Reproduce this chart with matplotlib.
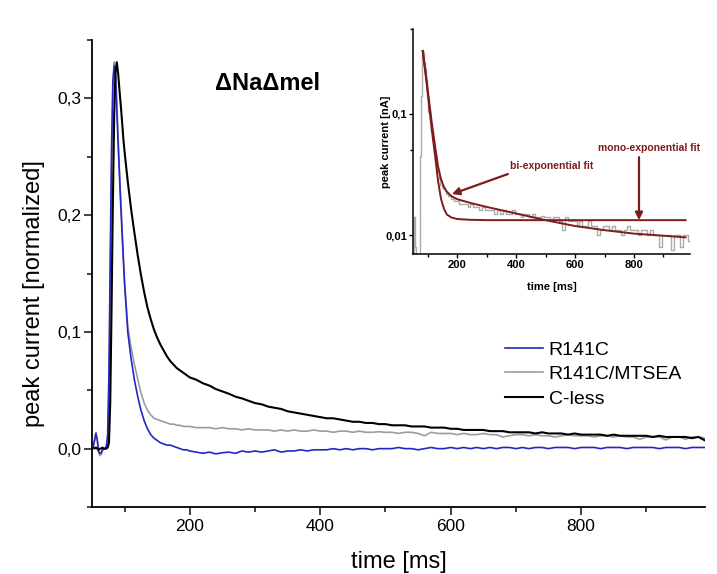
import numpy as np
import matplotlib
matplotlib.use("Agg")
import matplotlib.pyplot as plt
from matplotlib.ticker import FixedLocator, FixedFormatter, NullFormatter

plt.rcParams["font.family"] = ["Liberation Sans", "DejaVu Sans"]

# ---------------------------------------------------------------- data
time_ms = [50, 52, 54, 56, 58, 60, 62, 64, 66, 68, 70, 72, 74, 76, 78, 80, 82, 84, 86, 88,
           90, 92, 94, 96, 98, 100,
           105, 110, 115, 120, 125, 130, 135, 140, 145, 150, 155, 160, 165, 170, 175, 180,
           185, 190, 195, 200,
           210, 220, 230, 240, 250, 260, 270, 280, 290, 300,
           310, 320, 330, 340, 350, 360, 370, 380, 390, 400,
           410, 420, 430, 440, 450, 460, 470, 480, 490, 500,
           510, 520, 530, 540, 550, 560, 570, 580, 590, 600,
           610, 620, 630, 640, 650, 660, 670, 680, 690, 700,
           710, 720, 730, 740, 750, 760, 770, 780, 790, 800,
           810, 820, 830, 840, 850, 860, 870, 880, 890, 900,
           910, 920, 930, 940, 950, 960, 970, 980, 990]

r141c = [0.000, 0.002, 0.007, 0.013, 0.008, -0.002, -0.004, -0.004, -0.001, 0.000, 0.000,
         0.002, 0.012, 0.065, 0.165, 0.258, 0.315, 0.328, 0.318, 0.290, 0.262, 0.236, 0.210,
         0.186, 0.163, 0.141,
         0.099, 0.077, 0.059, 0.045, 0.033, 0.024, 0.017, 0.012, 0.009, 0.007, 0.005, 0.004,
         0.003, 0.003, 0.002, 0.001, 0.000, -0.001, -0.001, -0.002,
         -0.003, -0.004, -0.003, -0.0045, -0.0035, -0.003, -0.004, -0.002, -0.003, -0.002,
         -0.003, -0.002, -0.001, -0.003, -0.002, -0.002, -0.001, -0.002, -0.001, -0.001,
         -0.001, 0.000, -0.001, 0.000, -0.001, 0.000, 0.000, -0.001, 0.000, 0.000,
         0.000, 0.001, 0.000, 0.000, -0.001, 0.000, 0.001, 0.000, 0.000, 0.001,
         0.000, 0.001, 0.000, 0.001, 0.000, 0.001, 0.000, 0.001, 0.001, 0.000,
         0.001, 0.000, 0.001, 0.001, 0.000, 0.001, 0.001, 0.001, 0.000, 0.001,
         0.001, 0.001, 0.000, 0.001, 0.001, 0.001, 0.000, 0.001, 0.001, 0.001,
         0.001, 0.000, 0.001, 0.001, 0.001, 0.000, 0.001, 0.001, 0.001]

r141c_mtsea = [0.000, 0.002, 0.008, 0.014, 0.008, -0.003, -0.006, -0.005, -0.002, 0.000, 0.000,
               0.001, 0.006, 0.045, 0.140, 0.235, 0.305, 0.331, 0.326, 0.300, 0.268, 0.240,
               0.214, 0.190, 0.166, 0.142,
               0.104, 0.087, 0.072, 0.060, 0.048, 0.039, 0.033, 0.029, 0.026, 0.025, 0.024,
               0.023, 0.022, 0.021, 0.021, 0.020, 0.020, 0.019, 0.019, 0.019,
               0.018, 0.018, 0.018, 0.017, 0.018, 0.017, 0.017, 0.016, 0.017, 0.016,
               0.016, 0.016, 0.015, 0.016, 0.015, 0.016, 0.015, 0.015, 0.016, 0.015,
               0.015, 0.014, 0.015, 0.015, 0.014, 0.015, 0.014, 0.014, 0.0145, 0.014,
               0.014, 0.013, 0.014, 0.014, 0.013, 0.011, 0.014, 0.013, 0.013, 0.013,
               0.012, 0.013, 0.012, 0.012, 0.013, 0.012, 0.012, 0.010, 0.011, 0.012,
               0.012, 0.011, 0.012, 0.011, 0.011, 0.010, 0.011, 0.012, 0.011, 0.011,
               0.011, 0.010, 0.011, 0.011, 0.010, 0.011, 0.010, 0.010, 0.008, 0.010,
               0.010, 0.010, 0.0075, 0.010, 0.010, 0.008, 0.010, 0.010, 0.009]

c_less = [0.000, 0.001, 0.000, 0.001, 0.000, -0.001, 0.000, 0.000, 0.001, 0.000, 0.000,
          0.000, 0.001, 0.005, 0.040, 0.120, 0.210, 0.285, 0.322, 0.331, 0.322, 0.308,
          0.295, 0.281, 0.266, 0.254,
          0.228, 0.205, 0.185, 0.166, 0.149, 0.134, 0.121, 0.111, 0.102, 0.095, 0.089,
          0.084, 0.079, 0.075, 0.072, 0.069, 0.067, 0.065, 0.063, 0.061,
          0.059, 0.056, 0.054, 0.051, 0.049, 0.047, 0.0445, 0.043, 0.041, 0.039,
          0.038, 0.036, 0.035, 0.034, 0.032, 0.031, 0.030, 0.029, 0.028, 0.027,
          0.026, 0.026, 0.025, 0.024, 0.023, 0.023, 0.022, 0.022, 0.021, 0.021,
          0.020, 0.020, 0.020, 0.019, 0.019, 0.019, 0.018, 0.018, 0.018, 0.017,
          0.017, 0.016, 0.016, 0.016, 0.016, 0.015, 0.015, 0.015, 0.014, 0.014,
          0.014, 0.014, 0.013, 0.014, 0.013, 0.013, 0.013, 0.012, 0.013, 0.012,
          0.012, 0.012, 0.012, 0.011, 0.012, 0.011, 0.011, 0.011, 0.011, 0.011,
          0.010, 0.011, 0.010, 0.010, 0.010, 0.010, 0.009, 0.010, 0.007]

# exponential fits to the R141C/MTSEA trace (inset)
biexp_t = [83, 95, 105, 115, 125, 135, 145, 155, 165, 180, 200, 250, 300, 400, 500,
           600, 700, 800, 900, 975]
biexp_v = [0.33, 0.20, 0.125, 0.080, 0.054, 0.037, 0.029, 0.025, 0.0228, 0.021, 0.0198,
           0.0183, 0.0171, 0.0151, 0.0133, 0.0119, 0.0110, 0.0103, 0.0099, 0.0096]
monoexp_t = [83, 95, 105, 115, 125, 135, 145, 155, 165, 180, 200, 240, 300, 975]
monoexp_v = [0.33, 0.19, 0.115, 0.070, 0.045, 0.028, 0.020, 0.0165, 0.0148, 0.0140,
             0.0136, 0.0134, 0.0133, 0.0133]

series_labels = ["R141C", "R141C/MTSEA", "C-less"]
series_colors = ["#2626c4", "#9c9c9c", "#000000"]

main_xticks = [200, 400, 600, 800]
main_xtick_labels = ["200", "400", "600", "800"]
main_xminor = [100, 300, 500, 700, 900]
main_yticks = [0.0, 0.1, 0.2, 0.3]
main_ytick_labels = ["0,0", "0,1", "0,2", "0,3"]
main_yminor = [-0.05, 0.05, 0.15, 0.25, 0.35]
inset_yticks = [0.01, 0.1]
inset_ytick_labels = ["0,01", "0,1"]
inset_yminor = [0.05, 0.5]

fit_color = "#7d1c1c"

# ---------------------------------------------------------------- figure
fig = plt.figure(figsize=(7.17, 5.74), dpi=100)
ax = fig.add_axes([0.1283, 0.1167, 0.855, 0.8136])

t = np.array(time_ms)
lines = []
for vals, lab, col, lw, z in zip([r141c, r141c_mtsea, c_less], series_labels,
                                 series_colors, [1.2, 1.2, 1.5], [3, 2, 4]):
    ln, = ax.plot(t, vals, color=col, lw=lw, label=lab, zorder=z)
    lines.append(ln)

ax.set_xlim(50, 990)
ax.set_ylim(-0.05, 0.35)
for s in ["top", "right"]:
    ax.spines[s].set_visible(False)
for s in ["left", "bottom"]:
    ax.spines[s].set_linewidth(1.3)

ax.xaxis.set_major_locator(FixedLocator(main_xticks))
ax.xaxis.set_major_formatter(FixedFormatter(main_xtick_labels))
ax.xaxis.set_minor_locator(FixedLocator(main_xminor))
ax.yaxis.set_major_locator(FixedLocator(main_yticks))
ax.yaxis.set_major_formatter(FixedFormatter(main_ytick_labels))
ax.yaxis.set_minor_locator(FixedLocator(main_yminor))
ax.tick_params(which="major", direction="out", length=6, width=1.2, labelsize=12.5,
               color="#222222")
ax.tick_params(which="minor", direction="out", length=3.5, width=1.2, color="#222222")
ax.tick_params(axis="x", which="major", pad=2.5)
ax.tick_params(axis="y", which="major", pad=1.5)

ax.set_xlabel("time [ms]", fontsize=17, va="center")
ax.xaxis.set_label_coords(0.5, -0.118)
ax.set_ylabel("peak current [normalized]", fontsize=17, va="center")
ax.yaxis.set_label_coords(-0.0946, 0.458)

fig.text(215 / 717, 1 - 83 / 574, "ΔNaΔmel", fontsize=17, fontweight="bold",
         ha="left", va="center")

ax.legend(handles=lines, loc="upper left", bbox_to_anchor=(0.704, 0.406),
          bbox_transform=fig.transFigure, frameon=False, fontsize=14,
          handlelength=1.95, handletextpad=0.3, labelspacing=0.36,
          borderpad=0, borderaxespad=0)

# ---------------------------------------------------------------- inset
ax_in = fig.add_axes([0.576, 0.5575, 0.3863, 0.392])
ax_in.set_yscale("log", nonpositive="clip")
ax_in.plot(t, r141c_mtsea, color="#ababab", lw=1.0, zorder=2, drawstyle="steps-mid")
ax_in.plot(monoexp_t, monoexp_v, color=fit_color, lw=1.4, zorder=3)
ax_in.plot(biexp_t, biexp_v, color=fit_color, lw=1.4, zorder=4)
ax_in.set_xlim(50, 990)
ax_in.set_ylim(0.007, 0.5)
for s in ["top", "right"]:
    ax_in.spines[s].set_visible(False)
for s in ["left", "bottom"]:
    ax_in.spines[s].set_linewidth(1.1)

ax_in.xaxis.set_major_locator(FixedLocator(main_xticks))
ax_in.xaxis.set_major_formatter(FixedFormatter(main_xtick_labels))
ax_in.xaxis.set_minor_locator(FixedLocator(main_xminor))
ax_in.yaxis.set_major_locator(FixedLocator(inset_yticks))
ax_in.yaxis.set_major_formatter(FixedFormatter(inset_ytick_labels))
ax_in.yaxis.set_minor_locator(FixedLocator(inset_yminor))
ax_in.yaxis.set_minor_formatter(NullFormatter())
ax_in.tick_params(which="major", direction="out", length=2.8, width=1.0, labelsize=8,
                  pad=1.5)
ax_in.tick_params(which="minor", direction="out", length=2.0, width=1.0)
for lbl in ax_in.get_xticklabels() + ax_in.get_yticklabels():
    lbl.set_fontweight("bold")
ax_in.set_xlabel("time [ms]", fontsize=8, fontweight="bold", va="center")
ax_in.xaxis.set_label_coords(0.5, -0.147)
ax_in.set_ylabel("peak current [nA]", fontsize=8, fontweight="bold", va="center")
ax_in.yaxis.set_label_coords(-0.097, 0.5)

arrow_kw = dict(arrowstyle="-|>", color=fit_color, lw=1.6, mutation_scale=11,
                shrinkA=0, shrinkB=0)
ax_in.annotate("", xy=(182, 0.0218), xytext=(372, 0.0319), arrowprops=arrow_kw)
ax_in.text(379, 0.0372, "bi-exponential fit", color=fit_color, fontsize=7.5,
           fontweight="bold", ha="left", va="center")
ax_in.annotate("", xy=(817, monoexp_v[-1]), xytext=(817, 0.044), arrowprops=arrow_kw)
ax_in.text(678, 0.0522, "mono-exponential fit", color=fit_color, fontsize=7.5,
           fontweight="bold", ha="left", va="center", clip_on=False)

fig.savefig("out.png", dpi=100)
